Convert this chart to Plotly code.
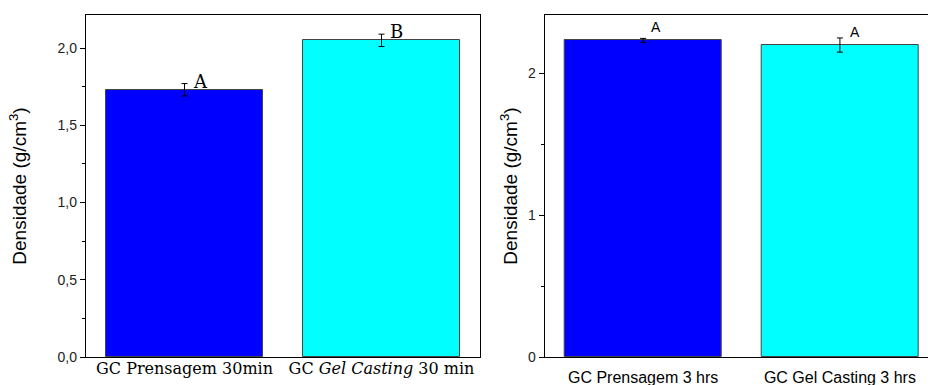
import plotly.graph_objects as go

# Data
cats_left = ["GC Prensagem 30min", "GC <i>Gel Casting</i> 30 min"]
vals_left = [1.73, 2.05]
err_left = [0.04, 0.04]
letters_left = ["A", "B"]

cats_right = ["GC Prensagem 3 hrs", "GC Gel Casting 3 hrs"]
vals_right = [2.233, 2.20]
err_right = [0.014, 0.05]
letters_right = ["A", "A"]

colors = ["#0000FF", "#00FFFF"]
ytitle = "Densidade (g/cm<sup>3</sup>)"

SANS = "Liberation Sans, Arial, sans-serif"
SERIF = "DejaVu Serif, serif"

fig = go.Figure()
pos = [1, 2]

fig.add_trace(go.Bar(x=pos, y=vals_left, width=0.8,
                     marker=dict(color=colors, line=dict(color="#444444", width=1)),
                     error_y=dict(type="data", array=err_left, color="black", thickness=1, width=3),
                     xaxis="x", yaxis="y", showlegend=False))
fig.add_trace(go.Bar(x=pos, y=vals_right, width=0.8,
                     marker=dict(color=colors, line=dict(color="#444444", width=1)),
                     error_y=dict(type="data", array=err_right, color="black", thickness=1, width=3),
                     xaxis="x2", yaxis="y2", showlegend=False))

W, H = 928, 385
ydom = [1 - 357 / H, 1 - 15 / H]

axline = dict(showline=True, linecolor="black", linewidth=1.3, showgrid=False, zeroline=False,
              automargin=False)

fig.update_layout(
    width=W, height=H, margin=dict(l=0, r=0, t=0, b=0),
    plot_bgcolor="white", paper_bgcolor="white",
    separators=",.",
    bargap=0,
    xaxis=dict(domain=[86 / W, 480 / W], range=[0.5, 2.5], tickvals=pos, ticktext=cats_left,
               ticks="", mirror=True, ticklabelstandoff=-3,
               tickfont=dict(family=SERIF, size=16, color="black"),
               anchor="y", **axline),
    yaxis=dict(domain=ydom, range=[0, 2.214], tickvals=[0, 0.5, 1.0, 1.5, 2.0], tickformat=".1f",
               ticks="outside", ticklen=5, tickcolor="black", mirror=True,
               minor=dict(dtick=0.25, ticks="outside", ticklen=3, tickcolor="black"),
               tickfont=dict(family=SANS, size=14, color="#222"),
               title=dict(text=ytitle, font=dict(family=SANS, size=19, color="black"), standoff=25),
               anchor="x", **axline),
    xaxis2=dict(domain=[544.7 / W, 1.0], range=[0.5, 2.4475], tickvals=pos, ticktext=cats_right,
                ticks="", mirror=True, ticklabelstandoff=6,
                tickfont=dict(family=SANS, size=16, color="black"),
                anchor="y2", **axline),
    yaxis2=dict(domain=ydom, range=[0, 2.412], tickvals=[0, 1, 2], tickformat="d",
                ticks="outside", ticklen=5, tickcolor="black", mirror=False,
                minor=dict(dtick=0.5, ticks="outside", ticklen=3, tickcolor="black"),
                tickfont=dict(family=SANS, size=14, color="#222"),
                title=dict(text=ytitle, font=dict(family=SANS, size=19, color="black"), standoff=5),
                anchor="x2", **axline),
)

# Significance letters
left_shift = [[16, 0], [15, 0]]
for p, v, e, t, s in zip(pos, vals_left, err_left, letters_left, left_shift):
    fig.add_annotation(x=p, y=v, xref="x", yref="y", text=t, showarrow=False,
                       yanchor="bottom", xshift=s[0], yshift=s[1] - 4,
                       font=dict(family=SERIF, size=18, color="black"))
right_shift = [[13, 1], [15, -4]]
for p, v, e, t, s in zip(pos, vals_right, err_right, letters_right, right_shift):
    fig.add_annotation(x=p, y=v + e, xref="x2", yref="y2", text=t, showarrow=False,
                       yanchor="bottom", xshift=s[0], yshift=s[1],
                       font=dict(family=SANS, size=14, color="black"))

fig.write_html("out.html")
